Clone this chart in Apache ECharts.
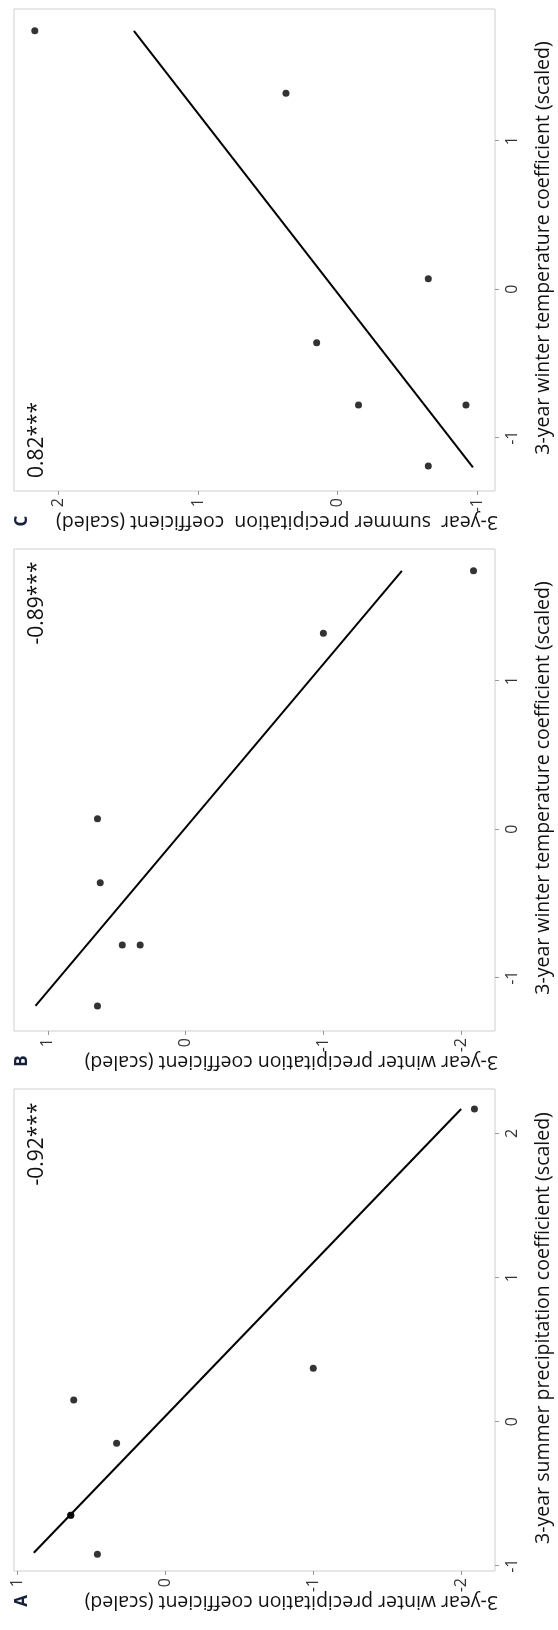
<!DOCTYPE html>
<html>
<head>
<meta charset="utf-8">
<script src="https://cdn.jsdelivr.net/npm/echarts/dist/echarts.min.js"></script>
<style>
html,body{margin:0;padding:0;background:#fff;}
#chart{width:558px;height:1630px;}
</style>
</head>
<body>
<div id="chart"></div>
<script>
// ---- data (scaled coefficients, 7 sites) ----
const winterTemp   = [1.74, 1.32, 0.07, -0.36, -0.78, -0.78, -1.19];
const summerPrecip = [2.17, 0.37, -0.65, 0.15, -0.15, -0.92, -0.65];
const winterPrecip = [-2.09, -1.00, 0.64, 0.62, 0.33, 0.46, 0.64];

// fitted regression line end points [x, y]
const fitA = [[-0.91, 0.89], [2.17, -2.00]];   // summer precip (x) vs winter precip (y)
const fitB = [[-1.19, 1.09], [1.74, -1.57]];   // winter temp (x) vs winter precip (y)
const fitC = [[-1.20, -0.97], [1.74, 1.46]];   // winter temp (x) vs summer precip (y)

const corrLabels = ['0.82***', '-0.89***', '-0.92***'];   // C, B, A
const panelLetters = ['C', 'B', 'A'];

const xTitles = [
  '3-year winter temperature coefficient (scaled)',
  '3-year winter temperature coefficient (scaled)',
  '3-year summer precipitation coefficient (scaled)'
];
const yTitles = [
  '3-year  summer precipitation  coefficient (scaled)',
  '3-year winter precipitation coefficient (scaled)',
  '3-year winter precipitation coefficient (scaled)'
];

const xTicks = [[-1, 0, 1], [-1, 0, 1], [-1, 0, 1, 2]];
const yTicks = [[-1, 0, 1, 2], [-2, -1, 0, 1], [-2, -1, 0, 1]];

// axis extents
const xRange = [[-1.359, 1.887], [-1.359, 1.887], [-1.037, 2.309]];
const yRange = [[-1.128, 2.319], [-2.246, 1.246], [-2.229, 1.024]];

// ---- build ----
const panels = [
  {x: winterTemp, y: summerPrecip, fit: fitC},
  {x: winterTemp, y: winterPrecip, fit: fitB},
  {x: summerPrecip, y: winterPrecip, fit: fitA}
];
const offsets = [0, 540, 1080];
const corrY = [440, 603, 1144];
const FONT = 'Open Sans';

const grids = [], hAxes = [], vAxes = [], series = [], graphics = [];
panels.forEach((p, i) => {
  const o = offsets[i];
  grids.push({left: 14, width: 481, top: o + 9, height: 482, show: true,
    borderColor: '#cfcfcf', borderWidth: 1, backgroundColor: '#fff'});
  // horizontal axis carries the original y variable (figure rotated 90° CCW)
  hAxes.push({
    gridIndex: i, type: 'value', inverse: true, position: 'bottom',
    min: yRange[i][0], max: yRange[i][1],
    axisLine: {show: false, onZero: false},
    splitLine: {show: false},
    axisTick: {show: true, length: 4, customValues: yTicks[i], lineStyle: {color: '#999', width: 1}},
    axisLabel: {customValues: yTicks[i], rotate: 90, margin: 7, fontSize: 16, fontFamily: FONT, color: '#333'}
  });
  // vertical axis carries the original x variable
  vAxes.push({
    gridIndex: i, type: 'value', position: 'right',
    min: xRange[i][0], max: xRange[i][1],
    axisLine: {show: false, onZero: false},
    splitLine: {show: false},
    axisTick: {show: true, length: 4, customValues: xTicks[i], lineStyle: {color: '#999', width: 1}},
    axisLabel: {customValues: xTicks[i], rotate: 90, margin: 9, fontSize: 16, fontFamily: FONT, color: '#333'}
  });
  series.push({
    type: 'line', xAxisIndex: i, yAxisIndex: i, showSymbol: false, silent: true,
    data: p.fit.map(d => [d[1], d[0]]),
    lineStyle: {color: '#000', width: 2}, z: 2
  });
  series.push({
    type: 'scatter', xAxisIndex: i, yAxisIndex: i, symbol: 'circle', symbolSize: 7,
    data: p.x.map((v, k) => [p.y[k], v]),
    itemStyle: {color: '#000'}, z: 3
  });
  graphics.push({type: 'text', x: 22, y: o + 521, rotation: Math.PI / 2,
    style: {text: panelLetters[i], font: 'bold 17px "' + FONT + '"', fill: '#14213d', textAlign: 'center', textVerticalAlign: 'middle'}});
  graphics.push({type: 'text', x: 498, y: o + 522, rotation: Math.PI,
    style: {text: yTitles[i], font: '19.5px "' + FONT + '"', fill: '#111', textAlign: 'left', textVerticalAlign: 'middle'}});
  graphics.push({type: 'text', x: 543, y: o + 248, rotation: Math.PI / 2,
    style: {text: xTitles[i], font: '19.5px "' + FONT + '"', fill: '#111', textAlign: 'center', textVerticalAlign: 'middle'}});
  graphics.push({type: 'text', x: 37, y: corrY[i], rotation: Math.PI / 2,
    style: {text: corrLabels[i], font: '21px "' + FONT + '"', fill: '#111', textAlign: 'center', textVerticalAlign: 'middle'}});
});

const chart = echarts.init(document.getElementById('chart'), null, {renderer: 'canvas'});
chart.setOption({
  backgroundColor: '#fff',
  animation: false,
  grid: grids,
  xAxis: hAxes,
  yAxis: vAxes,
  series: series,
  graphic: graphics
});
</script>
</body>
</html>
